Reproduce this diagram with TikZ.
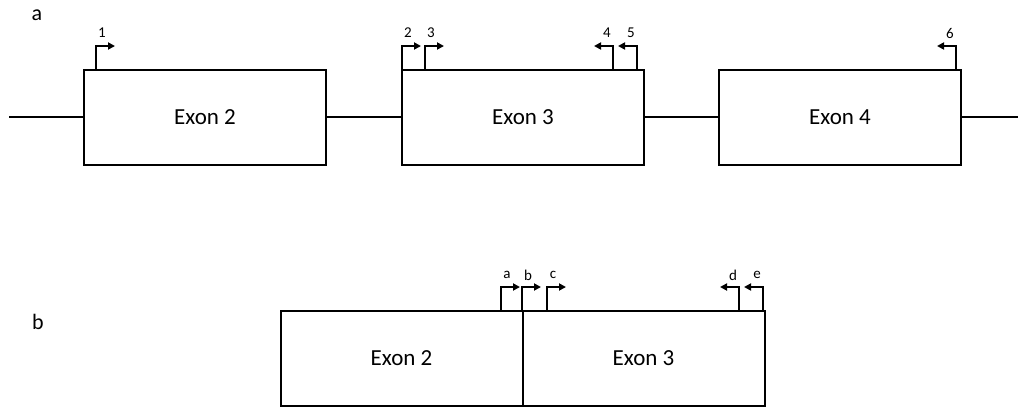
\documentclass[tikz,border=0pt]{standalone}
\usepackage{fontspec}
\setmainfont{Carlito}
\usetikzlibrary{positioning, arrows.meta, calc}

\begin{document}
\begin{tikzpicture}[
    x=1pt, y=-1pt,
    line width=2pt,
    exon/.style  ={draw, line width=2pt, minimum width=242pt, minimum height=95pt,
                   inner sep=0pt, outer sep=0pt, font=\fontsize{23}{27}\selectfont},
    tss/.style   ={-{Triangle[length=7pt, width=7pt]}, line width=2pt},
    tsslbl/.style={font=\fontsize{15}{17}\selectfont, inner sep=0pt},
    panel/.style ={font=\fontsize{22}{26}\selectfont, inner sep=0pt},
    intron/.style={line width=2pt},
]
\useasboundingbox (0,0) rectangle (1024,407);

% =============== Panel a ===============
\node[panel] (pa) at (37,15) {a};
\node[exon] (ea2) at (205,117.5) {Exon 2};
\node[exon, right=76pt of ea2] (ea3) {Exon 3};
\node[exon, right=75pt of ea3] (ea4) {Exon 4};

\coordinate (lstart) at (9,117);
\coordinate (lend)   at (1018,117);
\draw[intron] (lstart) -- (lstart -| ea2.west);
\draw[intron] (lstart -| ea2.east) -- (lstart -| ea3.west);
\draw[intron] (lstart -| ea3.east) -- (lstart -| ea4.west);
\draw[intron] (lstart -| ea4.east) -- (lend);

% promoters, +1 right / -1 left
\foreach \nm/\x/\d in {1/96/1, 2/402/1, 3/425/1, 4/613/-1, 5/637/-1, 6/956/-1}{%
  \coordinate (pa\nm) at (\x,70);
  \draw[tss] (pa\nm) -- ++(0,-24) -- ++(\d*19,0);
  \node[tsslbl] (la\nm) at ($(pa\nm)+(\d*6,-37)$) {\nm};
}

% =============== Panel b ===============
\node[panel] (pb) at (38,322) {b};
\node[exon] (eb2) at (401.5,358.5) {Exon 2};
\node[exon, right=0pt of eb2] (eb3) {Exon 3};

\foreach \nm/\x/\d in {a/501/1, b/522/1, c/547/1, d/739/-1, e/763/-1}{%
  \coordinate (pb\nm) at (\x,311);
  \draw[tss] (pb\nm) -- ++(0,-24) -- ++(\d*19,0);
  \node[tsslbl] (lb\nm) at ($(pb\nm)+(\d*6,-36)$) {\nm};
}

\end{tikzpicture}
\end{document}
